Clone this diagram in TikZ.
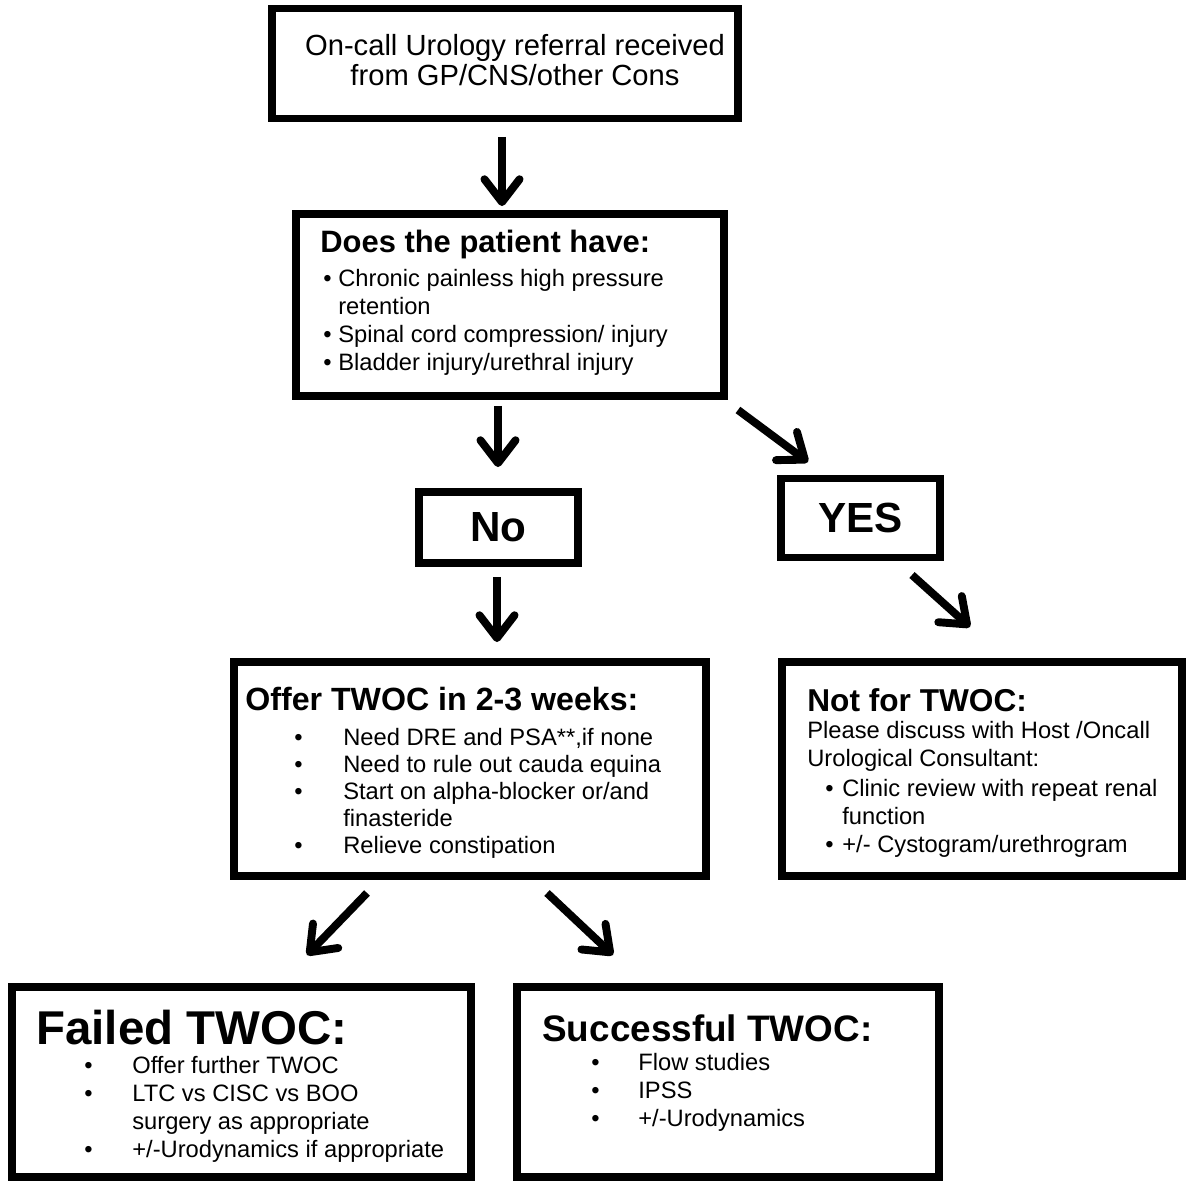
\documentclass[tikz,border=0pt]{standalone}
\usepackage{fontspec}
\setmainfont{Liberation Sans}
\usepackage{tikz}
\usetikzlibrary{positioning, arrows.meta, calc}

\newcommand{\bul}[1]{\makebox[#1][l]{\textbullet}}

\begin{document}
\begin{tikzpicture}[
    x=0.02cm, y=-0.02cm,
    box/.style={rectangle, draw, line width=4.5pt, inner sep=0pt, outer sep=0pt},
    title/.style={anchor=west, inner sep=0pt},
    bodytext/.style={anchor=north west, inner sep=0pt, align=left, font=\fontsize{13.5}{15.9}\selectfont},
    arrow/.style={-{Straight Barb[length=13pt, width=20pt, line cap=round, line join=round]}, line width=4.5pt}
]
\useasboundingbox (0,0) rectangle (1194,1182);

% referral
\node[box, minimum width=9.32cm, minimum height=2.2cm] (referral) at (505,63.5) {};
\node[align=center, inner sep=0pt, font=\fontsize{16.6}{17.4}\selectfont] (referraltext) at (515,60) {On-call Urology referral received\\from GP/CNS/other Cons};

% question
\node[box, minimum width=8.56cm, minimum height=3.64cm] (question) at (510,305) {};
\node[title, font=\bfseries\fontsize{17.6}{20}\selectfont] (questiontitle) at (320,245) {Does the patient have:};
\node[bodytext] (questionlist) at (323,269) {\bul{0.3cm}Chronic painless high pressure\\\hspace*{0.3cm}retention\\\bul{0.3cm}Spinal cord compression/ injury\\\bul{0.3cm}Bladder injury/urethral injury};

% answers
\node[box, minimum width=3.18cm, minimum height=1.42cm, font=\bfseries\fontsize{24}{28}\selectfont] (no) at (498.5,527.5) {No};
\node[box, minimum width=3.18cm, minimum height=1.58cm, font=\bfseries\fontsize{24}{28}\selectfont] (yes) at (860.5,518) {YES};

% offer
\node[box, minimum width=9.44cm, minimum height=4.28cm] (offer) at (470,769) {};
\node[title, font=\bfseries\fontsize{18.3}{21}\selectfont] (offertitle) at (245,699) {Offer TWOC in 2-3 weeks:};
\node[bodytext, font=\fontsize{13.5}{15.4}\selectfont] (offerlist) at (294,728) {\bul{0.98cm}Need DRE and PSA**,if none\\\bul{0.98cm}Need to rule out cauda equina\\\bul{0.98cm}Start on alpha-blocker or/and\\\hspace*{0.98cm}finasteride\\\bul{0.98cm}Relieve constipation};

% not for
\node[box, minimum width=8.0cm, minimum height=4.28cm] (notfor) at (982,769) {};
\node[title, font=\bfseries\fontsize{18}{21}\selectfont] (notfortitle) at (807,700) {Not for TWOC:};
\node[bodytext] (notforlist) at (807,721) {Please discuss with Host /Oncall\\Urological Consultant:\\[1pt]\hspace*{0.36cm}\bul{0.34cm}Clinic review with repeat renal\\\hspace*{0.7cm}function\\\hspace*{0.36cm}\bul{0.34cm}+/- Cystogram/urethrogram};

% failed
\node[box, minimum width=9.18cm, minimum height=3.8cm] (failed) at (241.5,1082) {};
\node[title, font=\bfseries\fontsize{27}{31}\selectfont] (failedtitle) at (36,1028) {Failed TWOC:};
\node[bodytext] (failedlist) at (84,1056) {\bul{0.96cm}Offer further TWOC\\\bul{0.96cm}LTC vs CISC vs BOO\\\hspace*{0.96cm}surgery as appropriate\\\bul{0.96cm}+/-Urodynamics if appropriate};

% success
\node[box, minimum width=8.44cm, minimum height=3.8cm] (success) at (728,1082) {};
\node[title, font=\bfseries\fontsize{21}{25}\selectfont] (successtitle) at (542,1028) {Successful TWOC:};
\node[bodytext] (successlist) at (591,1053) {\bul{0.94cm}Flow studies\\\bul{0.94cm}IPSS\\\bul{0.94cm}+/-Urodynamics};

% arrows
\draw[arrow] ($(referral.south)+(-3,18.5)$) -- ($(question.north)+(-8,-8)$);
\draw[arrow] ($(question.south)+(-12,10)$) -- ($(no.north)+(-0.5,-25)$);
\draw[arrow] ($(question.south east)+(14,14)$) -- ($(yes.north west)+(27,-16.5)$);
\draw[arrow] ($(no.south)+(-1.5,14)$) -- ($(offer.north)+(27,-20)$);
\draw[arrow] ($(yes.south)+(51.5,17.5)$) -- ($(notfor.north)+(-12,-35)$);
\draw[arrow] ($(offer.south)+(-103,17)$) -- ($(failed.north)+(65.5,-32)$);
\draw[arrow] ($(offer.south)+(77,17)$) -- ($(success.north)+(-115,-32)$);

\end{tikzpicture}
\end{document}
